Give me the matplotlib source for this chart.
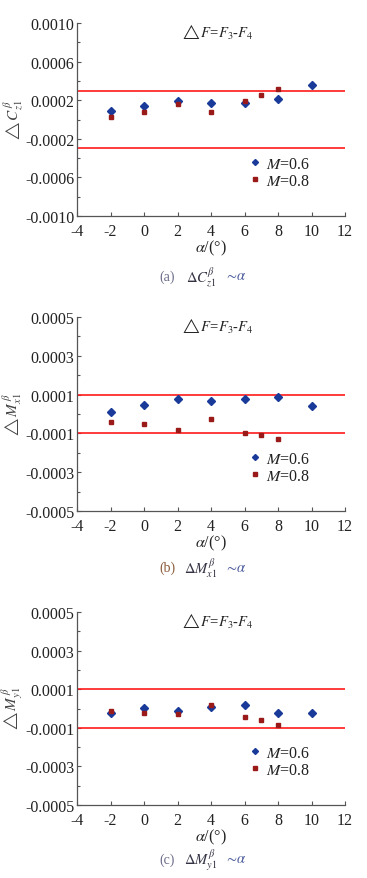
import numpy as np
import matplotlib
matplotlib.use('Agg')
import matplotlib.pyplot as plt
from matplotlib.ticker import MultipleLocator

plt.rcParams['font.family'] = ['Liberation Serif', 'DejaVu Serif']
plt.rcParams['mathtext.fontset'] = 'stix'
plt.rcParams['axes.unicode_minus'] = False

# data
alpha_06 = [-2, 0, 2, 4, 6, 8, 10]
alpha_08 = [-2, 0, 2, 4, 6, 7, 8]

cz1_06 = [0.00009, 0.00014, 0.00019, 0.000166, 0.000176, 0.000217, 0.000362]
cz1_08 = [0.000028, 0.000079, 0.000162, 0.000079, 0.00019, 0.000252, 0.00032]

mx1_06 = [0.000012, 0.000048, 0.000079, 0.000069, 0.000079, 0.00009, 0.00004]
mx1_08 = [-0.000041, -0.00005, -0.000081, -0.000028, -0.0001, -0.00011, -0.000131]

my1_06 = [-0.000021, 0.000002, -0.000012, 0.0000085, 0.000019, -0.000021, -0.000021]
my1_08 = [-0.000012, -0.000021, -0.00003, 0.000019, -0.000042, -0.000059, -0.000088]

limits = [0.0003, 0.0001, 0.0001]
ylims = [0.0010, 0.0005, 0.0005]
ysteps = [0.0004, 0.0002, 0.0002]
ylabels = [r'$\triangle C_{z1}^{\,\beta}$', r'$\triangle M_{x1}^{\,\beta}$', r'$\triangle M_{y1}^{\,\beta}$']
captions = [('(a)', r'$\Delta C_{z1}^{\beta}$'), ('(b)', r'$\Delta M_{x1}^{\beta}$'),
            ('(c)', r'$\Delta M_{y1}^{\beta}$')]
series = [(cz1_06, cz1_08), (mx1_06, mx1_08), (my1_06, my1_08)]

W, H = 367, 879
fig = plt.figure(figsize=(W / 100, H / 100), dpi=100)

tops = [24, 318, 613]
bottoms = [217, 512, 806]
cap_y = [277, 568, 860]
left, right = 77, 345
axis_col = '#555555'
txt_col = '#222222'

for i in range(3):
    ax = fig.add_axes([left / W, 1 - bottoms[i] / H, (right - left) / W, (bottoms[i] - tops[i]) / H])
    y06, y08 = series[i]
    ax.axhline(limits[i], color='#ff1a1a', lw=1.2)
    ax.axhline(-limits[i], color='#ff1a1a', lw=1.2)
    ax.plot(alpha_06, y06, 'D', color='#1a3a9a', ms=3.8, ls='none', label='$M$=0.6')
    ax.plot(alpha_08, y08, 's', color='#9a1a1a', ms=3.4, ls='none', label='$M$=0.8')

    ax.set_xlim(-4, 12)
    ax.set_ylim(-ylims[i], ylims[i])
    ax.xaxis.set_major_locator(MultipleLocator(2))
    ax.yaxis.set_minor_locator(MultipleLocator(ysteps[i] / 2))
    yt = np.arange(-ylims[i], ylims[i] + 1e-9, ysteps[i])
    ax.set_yticks(yt)
    ax.set_yticklabels([f'{v:.4f}' for v in yt])
    ax.tick_params(direction='in', length=3, width=0.8, colors=axis_col,
                   labelcolor=txt_col, labelsize=11.5, pad=2)
    ax.tick_params(axis='x', pad=5)
    ax.tick_params(which='minor', direction='in', length=2, width=0.8, colors=axis_col)
    for s in ['top', 'right']:
        ax.spines[s].set_visible(False)
    for s in ['left', 'bottom']:
        ax.spines[s].set_color(axis_col)
        ax.spines[s].set_linewidth(0.9)

    ax.set_xlabel(r'$\alpha$/(°)', fontsize=11.5, color=txt_col, labelpad=-1)
    ax.set_ylabel(ylabels[i], fontsize=11, color='#444444', labelpad=0)
    ax.text(0.52, 0.955, r'$\triangle F$=$F_3$-$F_4$', transform=ax.transAxes,
            ha='center', va='center', fontsize=10.5, color=txt_col)
    ax.legend(loc='lower left', bbox_to_anchor=(0.615, 0.1), frameon=False, fontsize=11.5,
              handlelength=0.6, handletextpad=0.4, borderpad=0, labelspacing=0.05,
              markerscale=0.8, labelcolor=txt_col)

    # caption under each panel
    cy = 1 - cap_y[i] / H
    fig.text(167 / W, cy, captions[i][0], ha='center', va='center', fontsize=10,
             color='#6b6b8a' if i != 1 else '#8a5a3a')
    fig.text(201 / W, cy, captions[i][1], ha='center', va='center', fontsize=10.5, color='#333344')
    fig.text(235 / W, cy, r'$\sim\!\alpha$', ha='center', va='center', fontsize=10.5, color='#4a5a9a')

fig.savefig('out.png', dpi=100)
